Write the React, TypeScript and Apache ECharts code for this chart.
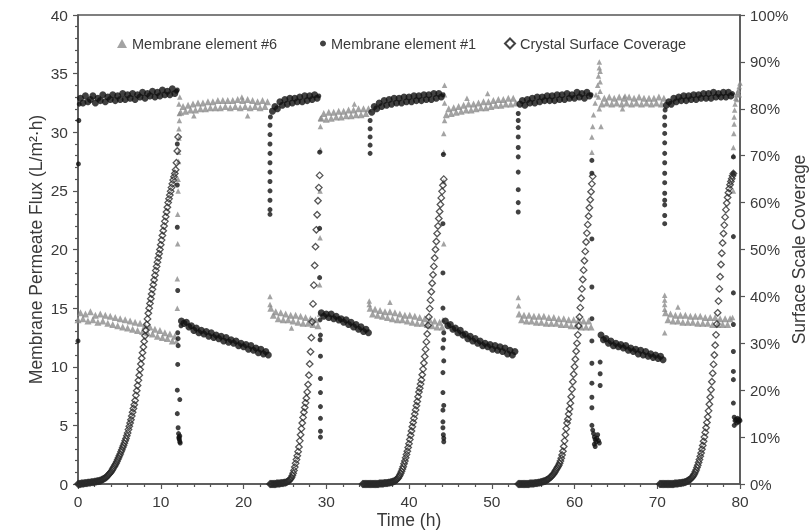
import React, { useEffect, useRef } from "react";
import * as echarts from "echarts";

// ---------- sampling steps (hours) ----------
const FLUX_STEP = 0.3;
const COVERAGE_STEP = 0.1;

// ---------- Membrane element #1 (black circles), flux L/m2·h ----------
const el1Starts = [0.3, 12.5, 23.5, 29.4, 35.5, 44.4, 53.4, 63.2, 71.1];
const el1HighA = [32.9, 32.5, 33.1, 32.6, 32.8, 33.1, 32.5, 32.9, 32.7, 33.2, 32.6, 33.0, 32.8, 33.2, 32.7, 33.1, 32.8, 33.3, 32.8, 33.2, 32.9, 33.3, 32.8, 33.2, 33.0, 33.4, 32.9, 33.3, 33.1, 33.5, 33.0, 33.4, 33.1, 33.6, 33.2, 33.5, 33.2, 33.7, 33.3];
const el1LowA = [13.9, 13.7, 13.8, 13.4, 13.5, 13.1, 13.3, 12.9, 13.1, 12.8, 13.0, 12.6, 12.9, 12.5, 12.7, 12.4, 12.6, 12.2, 12.5, 12.1, 12.3, 12.0, 12.2, 11.8, 12.0, 11.7, 11.9, 11.5, 11.8, 11.4, 11.6, 11.2, 11.5, 11.1, 11.3, 11.0];
const el1HighB = [31.8, 32.2, 32.0, 32.6, 32.3, 32.8, 32.4, 32.9, 32.5, 32.9, 32.6, 33.0, 32.6, 33.1, 32.7, 33.1, 32.8, 33.2, 32.9];
const el1LowB = [14.6, 14.3, 14.5, 14.2, 14.5, 14.1, 14.3, 14.0, 14.1, 13.8, 14.0, 13.6, 13.8, 13.4, 13.6, 13.2, 13.4, 13.0, 13.2, 12.9];
const el1HighC = [31.7, 32.2, 32.0, 32.5, 32.2, 32.7, 32.3, 32.8, 32.4, 32.9, 32.5, 32.9, 32.5, 33.0, 32.6, 33.0, 32.6, 33.1, 32.7, 33.1, 32.7, 33.2, 32.8, 33.2, 32.8, 33.3, 32.9, 33.3, 33.0];
const el1LowC = [13.9, 13.5, 13.6, 13.2, 13.3, 12.9, 13.1, 12.7, 12.8, 12.4, 12.6, 12.2, 12.4, 12.0, 12.2, 11.8, 12.0, 11.7, 11.9, 11.5, 11.8, 11.4, 11.7, 11.3, 11.6, 11.1, 11.4, 11.0, 11.3];
const el1HighD = [32.4, 32.7, 32.3, 32.8, 32.5, 32.9, 32.5, 33.0, 32.6, 33.0, 32.7, 33.1, 32.7, 33.1, 32.7, 33.2, 32.8, 33.2, 32.8, 33.3, 32.9, 33.2, 32.9, 33.4, 33.0, 33.3, 32.9, 33.4, 33.1];
const el1LowD = [12.7, 12.3, 12.4, 12.0, 12.2, 11.8, 12.0, 11.7, 11.9, 11.6, 11.8, 11.4, 11.6, 11.3, 11.5, 11.1, 11.4, 11.0, 11.3, 10.9, 11.1, 10.8, 11.0, 10.7, 10.9, 10.6];
const el1HighE = [32.3, 32.6, 32.4, 32.9, 32.6, 33.0, 32.7, 33.1, 32.7, 33.1, 32.8, 33.2, 32.8, 33.2, 32.9, 33.3, 32.9, 33.3, 32.9, 33.4, 33.0, 33.3, 33.0, 33.4, 33.0, 33.4, 33.1];
const el1Plateaus = [el1HighA, el1LowA, el1HighB, el1LowB, el1HighC, el1LowC, el1HighD, el1LowD, el1HighE];
// switching transients and isolated readings [time h, flux]
const el1Transients = [
  [0, 12.2], [0.05, 27.3], [0.1, 31.0], [0.15, 32.4], [11.9, 33.5], [12.0, 33.6],
  [12.0, 29.0], [12.0, 25.5], [12.0, 21.9], [12.05, 16.5], [12.05, 12.9], [12.1, 12.4], [12.1, 11.8], [12.05, 10.2], [12.0, 8.0], [12.3, 7.2], [12.0, 6.0], [12.1, 4.8], [12.15, 4.3], [12.2, 4.0], [12.25, 3.8], [12.3, 3.6], [12.35, 3.5], [12.2, 3.9], [12.3, 4.1], [12.45, 13.5],
  [23.2, 23.0], [23.2, 23.4], [23.2, 24.2], [23.2, 25.0], [23.2, 25.8], [23.2, 26.6], [23.2, 27.4], [23.2, 28.2], [23.2, 29.0], [23.2, 29.8], [23.2, 30.6], [23.25, 31.3],
  [29.1, 33.1], [29.2, 28.3], [29.2, 21.8], [29.2, 17.6], [29.25, 14.0], [29.3, 12.7], [29.25, 12.3], [29.3, 10.9], [29.3, 9.0], [29.3, 7.8], [29.3, 6.6], [29.3, 5.6], [29.3, 4.5], [29.3, 4.0],
  [35.3, 28.2], [35.3, 28.9], [35.3, 29.6], [35.3, 30.3], [35.3, 31.0],
  [44.1, 33.2], [44.15, 28.1], [44.1, 22.2], [44.1, 18.0], [44.1, 15.0], [44.2, 12.9], [44.2, 12.3], [44.1, 11.6], [44.2, 10.5], [44.1, 9.5], [44.1, 7.8], [44.2, 6.7], [44.1, 6.3], [44.1, 5.3], [44.1, 4.8], [44.15, 4.2], [44.2, 3.9], [44.2, 3.6],
  [53.2, 23.2], [53.2, 24.0], [53.2, 25.1], [53.2, 26.6], [53.2, 27.9], [53.2, 28.7], [53.2, 29.6], [53.2, 30.4], [53.2, 31.0], [53.2, 31.6],
  [62.0, 33.2], [62.1, 27.6], [62.1, 26.5], [62.1, 20.9], [62.1, 16.8], [62.1, 14.1], [62.1, 12.2], [62.1, 10.3], [62.1, 8.6], [62.1, 7.4], [62.1, 6.5], [62.1, 5.0], [62.2, 4.6], [62.3, 4.3], [62.4, 4.0], [62.5, 3.8], [62.6, 3.6], [62.4, 3.4], [62.5, 3.2], [62.7, 3.9], [62.8, 4.2], [62.9, 3.7], [63.0, 3.5], [63.1, 10.4], [63.1, 9.4], [63.1, 8.4],
  [70.9, 22.2], [70.9, 22.9], [70.9, 23.8], [70.9, 24.2], [70.9, 24.8], [70.9, 25.7], [70.9, 26.5], [70.9, 27.4], [70.9, 28.2], [70.9, 29.1], [70.9, 29.9], [70.9, 30.6], [70.9, 31.3], [70.95, 31.9],
  [79.1, 33.3], [79.2, 27.9], [79.2, 26.5], [79.2, 21.1], [79.2, 16.3], [79.2, 13.6], [79.2, 11.3], [79.2, 9.6], [79.2, 8.9], [79.2, 6.9], [79.3, 5.7], [79.4, 5.4], [79.5, 5.5], [79.6, 5.2], [79.7, 5.6], [79.8, 5.3], [79.9, 5.5], [80, 5.4], [79.3, 5.0],
];

// ---------- Membrane element #6 (grey triangles), flux L/m2·h ----------
const el6Starts = [0.0, 12.4, 23.3, 29.4, 35.3, 44.5, 53.3, 63.3, 71.0];
const el6LowA = [14.0, 14.6, 14.1, 14.5, 13.9, 14.7, 14.0, 14.4, 13.8, 14.5, 13.9, 14.4, 13.7, 14.3, 13.6, 14.2, 13.5, 14.1, 13.4, 14.0, 13.3, 13.9, 13.2, 13.8, 13.1, 13.7, 13.0, 13.5, 12.9, 13.4, 12.8, 13.2, 12.6, 13.1, 12.5, 12.9, 12.4, 12.8, 12.2, 12.6];
const el6HighA = [31.7, 32.2, 31.8, 32.3, 31.9, 32.4, 31.9, 32.5, 32.0, 32.5, 32.0, 32.6, 32.1, 32.6, 32.1, 32.7, 32.1, 32.7, 32.2, 32.7, 32.1, 32.7, 32.2, 32.8, 32.1, 32.7, 32.2, 32.8, 32.1, 32.7, 32.2, 32.6, 32.1, 32.7, 32.2, 32.6];
const el6LowB = [15.0, 14.4, 14.7, 14.1, 14.6, 14.0, 14.5, 14.0, 14.4, 13.9, 14.4, 13.8, 14.3, 13.7, 14.2, 13.7, 14.1, 13.6, 14.0, 13.5];
const el6HighB = [31.2, 31.6, 31.1, 31.7, 31.2, 31.7, 31.3, 31.8, 31.3, 31.8, 31.4, 31.9, 31.4, 31.9, 31.5, 32.0, 31.5, 32.0, 31.6, 32.0];
const el6LowC = [15.0, 14.5, 14.9, 14.4, 14.8, 14.3, 14.7, 14.2, 14.7, 14.1, 14.6, 14.0, 14.5, 14.0, 14.4, 13.9, 14.4, 13.8, 14.3, 13.7, 14.2, 13.7, 14.1, 13.6, 14.0, 13.5, 13.9, 13.4, 13.8, 13.4];
const el6HighC = [31.5, 32.0, 31.6, 32.1, 31.7, 32.2, 31.8, 32.3, 31.9, 32.4, 31.9, 32.4, 32.0, 32.5, 32.1, 32.6, 32.1, 32.6, 32.2, 32.7, 32.3, 32.8, 32.3, 32.8, 32.4, 32.9, 32.4, 32.9, 32.5];
const el6LowD = [14.5, 14.0, 14.4, 13.9, 14.4, 13.9, 14.3, 13.8, 14.3, 13.8, 14.3, 13.7, 14.2, 13.7, 14.2, 13.7, 14.1, 13.6, 14.1, 13.6, 14.0, 13.5, 14.0, 13.5, 14.0, 13.4, 13.9, 13.4, 13.9, 13.4];
const el6HighD = [32.4, 32.9, 32.5, 33.0, 32.4, 32.9, 32.5, 33.0, 32.4, 32.9, 32.5, 33.0, 32.4, 32.9, 32.5, 33.0, 32.4, 32.9, 32.5, 32.9, 32.4, 32.9, 32.5, 33.0, 32.4, 32.9];
const el6LowE = [14.6, 14.0, 14.5, 13.9, 14.4, 13.9, 14.4, 13.8, 14.4, 13.8, 14.3, 13.8, 14.3, 13.7, 14.3, 13.7, 14.2, 13.7, 14.2, 13.6, 14.2, 13.6, 14.1, 13.6, 14.1, 13.6, 14.1];
const el6Plateaus = [el6LowA, el6HighA, el6LowB, el6HighB, el6LowC, el6HighC, el6LowD, el6HighD, el6LowE];
const el6Transients = [
  [11.9, 12.2], [12.0, 15.0], [12.0, 17.5], [12.05, 20.5], [12.05, 23.0], [12.1, 25.0], [12.1, 26.0], [12.15, 27.5], [12.15, 28.3], [12.2, 29.5], [12.2, 30.3], [12.25, 31.0], [12.25, 31.6], [12.3, 33.0], [12.2, 32.4],
  [14.0, 31.4], [19.8, 33.0], [20.5, 31.4],
  [23.2, 16.0], [23.2, 15.3], [25.8, 13.3],
  [29.2, 14.5], [29.2, 17.0], [29.25, 21.0], [29.25, 25.0], [29.3, 28.5], [29.3, 30.5], [29.3, 31.2], [33.4, 32.4],
  [35.2, 15.6], [35.2, 15.3], [37.7, 15.5],
  [44.1, 14.0], [44.2, 20.5], [44.2, 25.8], [44.2, 28.3], [44.2, 29.9], [44.3, 31.0], [44.3, 32.5], [44.3, 33.2], [44.3, 34.0], [47.0, 32.9], [49.5, 33.3],
  [53.2, 15.9], [53.25, 15.2],
  [62.1, 28.3], [62.1, 29.6], [62.2, 30.5], [62.3, 31.5], [62.5, 32.5], [62.6, 33.2], [62.8, 34.0], [62.9, 34.8], [63.0, 35.5], [63.0, 36.0], [63.1, 35.2], [63.1, 34.3], [63.1, 33.5], [63.2, 30.5], [62.9, 33.0], [63.0, 32.0], [65.8, 32.0], [66.1, 33.1],
  [70.9, 16.1], [70.9, 15.7], [70.9, 15.3], [70.9, 14.9], [70.9, 12.9], [72.5, 15.1],
  [79.1, 14.2], [79.2, 25.0], [79.2, 26.5], [79.2, 28.0], [79.2, 28.7], [79.25, 29.9], [79.3, 30.7], [79.3, 31.3], [79.35, 31.9], [79.4, 32.4], [79.5, 32.9], [79.6, 33.2], [79.7, 33.4], [79.8, 33.6], [79.9, 33.9], [80.0, 34.2], [79.6, 32.8], [79.9, 33.2],
];

// ---------- Crystal surface coverage (open diamonds), % ----------
const coverageStarts = [0.0, 23.2, 34.4, 53.2, 70.3];
const coverageA = [
  0, 0, 0, 0, 0.1, 0.1, 0.1, 0.1, 0.2, 0.2,
  0.2, 0.2, 0.3, 0.3, 0.3, 0.3, 0.4, 0.4, 0.4, 0.4,
  0.5, 0.5, 0.5, 0.6, 0.6, 0.6, 0.7, 0.7, 0.8, 0.9,
  1.0, 1.1, 1.2, 1.3, 1.4, 1.6, 1.8, 2.0, 2.2, 2.4,
  2.6, 2.9, 3.2, 3.5, 3.8, 4.1, 4.4, 4.8, 5.2, 5.6,
  6.0, 6.4, 6.9, 7.3, 7.8, 8.2, 8.7, 9.2, 9.7, 10.3,
  10.9, 11.6, 12.3, 13.0, 13.7, 14.5, 15.3, 16.1, 16.9, 17.8,
  18.9, 19.9, 21.0, 22.1, 23.2, 24.4, 25.6, 26.8, 28.0, 29.2,
  30.4, 31.6, 32.8, 34.0, 35.2, 36.4, 37.5, 38.5, 39.5, 40.5,
  41.5, 42.5, 43.5, 44.5, 45.5, 46.4, 47.3, 48.2, 49.1, 50.0,
  51.0, 52.0, 53.0, 54.0, 55.0, 56.0, 57.0, 58.0, 59.0, 60.0,
  60.8, 61.6, 62.4, 63.2, 64.0, 64.8, 65.5, 66.2, 67.0, 68.5,
  71.0, 74.0,
];
const coverageB = [
  0, 0, 0, 0, 0, 0, 0, 0, 0.1, 0.1,
  0.1, 0.1, 0.1, 0.2, 0.2, 0.2, 0.2, 0.3, 0.3, 0.3,
  0.4, 0.5, 0.6, 0.7, 0.9, 1.1, 1.4, 1.8, 2.3, 2.9,
  3.6, 4.4, 5.2, 6.0, 6.9, 7.9, 9.2, 10.5, 11.8, 13.0,
  14.2, 15.3, 16.3, 17.3, 18.3, 19.6, 21.2, 23.2, 25.6, 28.2,
  31.2, 34.6, 38.4, 42.4, 46.6, 50.6, 54.2, 57.4, 60.4, 63.2,
  65.8,
];
const coverageC = [
  0, 0, 0, 0, 0, 0, 0, 0, 0,
  0, 0, 0, 0, 0, 0, 0, 0, 0, 0,
  0, 0.1, 0.1, 0.1, 0.1, 0.1, 0.1, 0.2, 0.2, 0.2,
  0.2, 0.2, 0.3, 0.3, 0.3, 0.4, 0.4, 0.5, 0.5, 0.6,
  0.7, 0.8, 0.9, 1.1, 1.3, 1.6, 1.9, 2.3, 2.7, 3.2,
  3.7, 4.3, 4.9, 5.6, 6.3, 7.0, 7.8, 8.6, 9.5, 10.4,
  11.3, 12.2, 13.1, 14.0, 14.9, 15.8, 16.7, 17.6, 18.6, 19.6,
  20.4, 21.3, 22.2, 23.3, 24.5, 25.8, 27.2, 28.7, 30.3, 32.0,
  33.8, 35.6, 37.4, 39.2, 41.0, 42.8, 44.6, 46.4, 48.2, 50.0,
  51.7, 53.4, 55.0, 56.6, 58.1, 59.6, 61.0, 62.4, 63.7, 65.0,
];
const coverageD = [
  0, 0, 0, 0, 0, 0, 0, 0, 0, 0,
  0, 0, 0, 0, 0.1, 0.1, 0.1, 0.1, 0.1, 0.1,
  0.2, 0.2, 0.2, 0.2, 0.3, 0.3, 0.3, 0.4, 0.4, 0.5,
  0.5, 0.6, 0.6, 0.7, 0.8, 0.9, 1.0, 1.1, 1.3, 1.5,
  1.6, 1.8, 2.0, 2.2, 2.5, 2.8, 3.1, 3.4, 3.7, 4.0,
  4.4, 4.9, 5.5, 6.2, 7.0, 8.0, 9.2, 10.5, 11.8, 13.0,
  13.8, 14.9, 16.0, 17.2, 18.6, 20.2, 21.8, 23.4, 25.0, 26.6,
  28.3, 30.0, 31.8, 33.7, 35.6, 37.6, 39.6, 41.6, 43.6, 45.6,
  47.6, 49.6, 51.6, 53.5, 55.3, 57.1, 58.9, 60.6, 62.3, 64.0, 65.6,
];
const coverageE = [
  0, 0, 0, 0, 0, 0, 0, 0, 0, 0, 0, 0, 0, 0, 0,
  0, 0, 0, 0.1, 0.1, 0.1, 0.1, 0.1, 0.2, 0.2,
  0.2, 0.2, 0.3, 0.3, 0.3, 0.4, 0.4, 0.5, 0.6, 0.7,
  0.8, 0.9, 1.0, 1.2, 1.4, 1.6, 1.9, 2.2, 2.6, 3.0,
  3.5, 4.0, 4.6, 5.2, 5.9, 6.6, 7.4, 8.2, 9.1, 10.0,
  11.0, 12.0, 13.1, 14.3, 15.6, 17.0, 18.5, 20.1, 21.8, 23.6,
  25.5, 27.5, 29.6, 31.8, 34.1, 36.5, 39.0, 41.6, 44.2, 46.8,
  49.2, 51.4, 53.4, 55.2, 56.9, 58.5, 59.9, 61.1, 62.1, 63.0,
  63.8, 64.5, 65.1, 65.7, 66.2,
];
const coverageSegments = [coverageA, coverageB, coverageC, coverageD, coverageE];

// ---------- axis / legend texts ----------
const xAxisName = "Time (h)";
const leftAxisName = "Membrane Permeate Flux (L/m\u00B2\u00B7h)";
const rightAxisName = "Surface Scale Coverage";
const seriesNames = ["Membrane element #6", "Membrane element #1", "Crystal Surface Coverage"];

function sampled(starts: number[], segments: number[][], step: number) {
  const out: number[][] = [];
  segments.forEach((vals, s) => {
    vals.forEach((v, i) => {
      out.push([Math.round((starts[s] + i * step) * 100) / 100, v]);
    });
  });
  return out;
}

const FONT = "'Liberation Sans', Arial, Helvetica, sans-serif";
const AXIS_COLOR = "#555";
const TEXT_COLOR = "#3a3a3a";
const GREY = "#8c8c8c";
const BLACK = "#111";

export default function App() {
  const ref = useRef<HTMLDivElement>(null);
  useEffect(() => {
    if (!ref.current) return;
    const chart = echarts.init(ref.current, null, { renderer: "svg" });
    const el1Band = sampled(el1Starts, el1Plateaus, FLUX_STEP);
    const el6Band = sampled(el6Starts, el6Plateaus, FLUX_STEP);
    const coverageData = sampled(coverageStarts, coverageSegments, COVERAGE_STEP);

    const legendText = { fontSize: 14.5, color: TEXT_COLOR, fontFamily: FONT };
    chart.setOption({
      animation: false,
      textStyle: { fontFamily: FONT },
      grid: {
        left: 78, right: 70, top: 15, bottom: 48,
        containLabel: false, outerBoundsMode: "none",
        show: true, borderColor: AXIS_COLOR, borderWidth: 1.5, backgroundColor: "transparent",
      },
      legend: [
        {
          data: [{ name: seriesNames[0], icon: "triangle", itemStyle: { color: GREY } }],
          left: 117, top: 36, padding: 0, itemWidth: 10, itemHeight: 9, textStyle: legendText,
          selectedMode: false,
        },
        {
          data: [{ name: seriesNames[1], icon: "circle", itemStyle: { color: BLACK } }],
          left: 320, top: 36, padding: 0, itemWidth: 6, itemHeight: 6, textStyle: legendText,
          selectedMode: false,
        },
        {
          data: [{
            name: seriesNames[2], icon: "diamond",
            itemStyle: { color: "rgba(0,0,0,0)", borderColor: BLACK, borderWidth: 2 },
          }],
          left: 504, top: 36, padding: 0, itemWidth: 10, itemHeight: 10, textStyle: legendText,
          selectedMode: false,
        },
      ],
      xAxis: {
        type: "value", min: 0, max: 80, interval: 10,
        name: xAxisName, nameLocation: "middle", nameGap: 27, nameMoveOverlap: false,
        nameTextStyle: { fontSize: 17.5, color: TEXT_COLOR, fontFamily: FONT },
        axisLine: { show: true, onZero: false, lineStyle: { color: AXIS_COLOR, width: 1.5 } },
        axisTick: { show: true, length: 5, lineStyle: { color: AXIS_COLOR, width: 1.2 } },
        minorTick: { show: true, splitNumber: 5, length: 3, lineStyle: { color: AXIS_COLOR, width: 1.2 } },
        axisLabel: { fontSize: 15.5, color: TEXT_COLOR, margin: 9, fontFamily: FONT },
        splitLine: { show: false },
      },
      yAxis: [
        {
          type: "value", min: 0, max: 40, interval: 5, position: "left",
          name: leftAxisName, nameLocation: "middle", nameGap: 33, nameRotate: 90, nameMoveOverlap: false,
          nameTextStyle: { fontSize: 17.5, color: TEXT_COLOR, fontFamily: FONT },
          axisLine: { show: true, onZero: false, lineStyle: { color: AXIS_COLOR, width: 1.5 } },
          axisTick: { show: true, length: 5, lineStyle: { color: AXIS_COLOR, width: 1.2 } },
          minorTick: { show: true, splitNumber: 5, length: 3, lineStyle: { color: AXIS_COLOR, width: 1.2 } },
          axisLabel: { fontSize: 15.5, color: TEXT_COLOR, margin: 10, fontFamily: FONT },
          splitLine: { show: false },
        },
        {
          type: "value", min: 0, max: 100, interval: 10, position: "right",
          name: rightAxisName, nameLocation: "middle", nameGap: 50, nameRotate: 90, nameMoveOverlap: false,
          nameTextStyle: { fontSize: 17.5, color: TEXT_COLOR, fontFamily: FONT },
          axisLine: { show: true, onZero: false, lineStyle: { color: AXIS_COLOR, width: 1.5 } },
          axisTick: { show: true, length: 5, lineStyle: { color: AXIS_COLOR, width: 1.2 } },
          axisLabel: { fontSize: 15, color: TEXT_COLOR, margin: 10, formatter: "{value}%", fontFamily: FONT },
          splitLine: { show: false },
        },
      ],
      series: [
        {
          name: seriesNames[0], type: "scatter", yAxisIndex: 0, data: el6Band,
          symbol: "triangle", symbolSize: 7, silent: true, itemStyle: { color: GREY }, z: 2,
        },
        {
          name: seriesNames[0], type: "scatter", yAxisIndex: 0, data: el6Transients,
          symbol: "triangle", symbolSize: 5.5, silent: true, itemStyle: { color: GREY }, z: 2,
        },
        {
          name: seriesNames[1], type: "scatter", yAxisIndex: 0, data: el1Band,
          symbol: "circle", symbolSize: 7, silent: true, itemStyle: { color: BLACK }, z: 3,
        },
        {
          name: seriesNames[1], type: "scatter", yAxisIndex: 0, data: el1Transients,
          symbol: "circle", symbolSize: 5, silent: true, itemStyle: { color: BLACK }, z: 3,
        },
        {
          name: seriesNames[2], type: "scatter", yAxisIndex: 1, data: coverageData,
          symbol: "diamond", symbolSize: 6.5, silent: true,
          itemStyle: { color: "rgba(0,0,0,0)", borderColor: "#2a2a2a", borderWidth: 1.3 }, z: 4,
        },
      ],
    });
    return () => chart.dispose();
  }, []);
  return <div ref={ref} style={{ position: "fixed", left: 0, top: 0, width: 810, height: 532 }} />;
}
